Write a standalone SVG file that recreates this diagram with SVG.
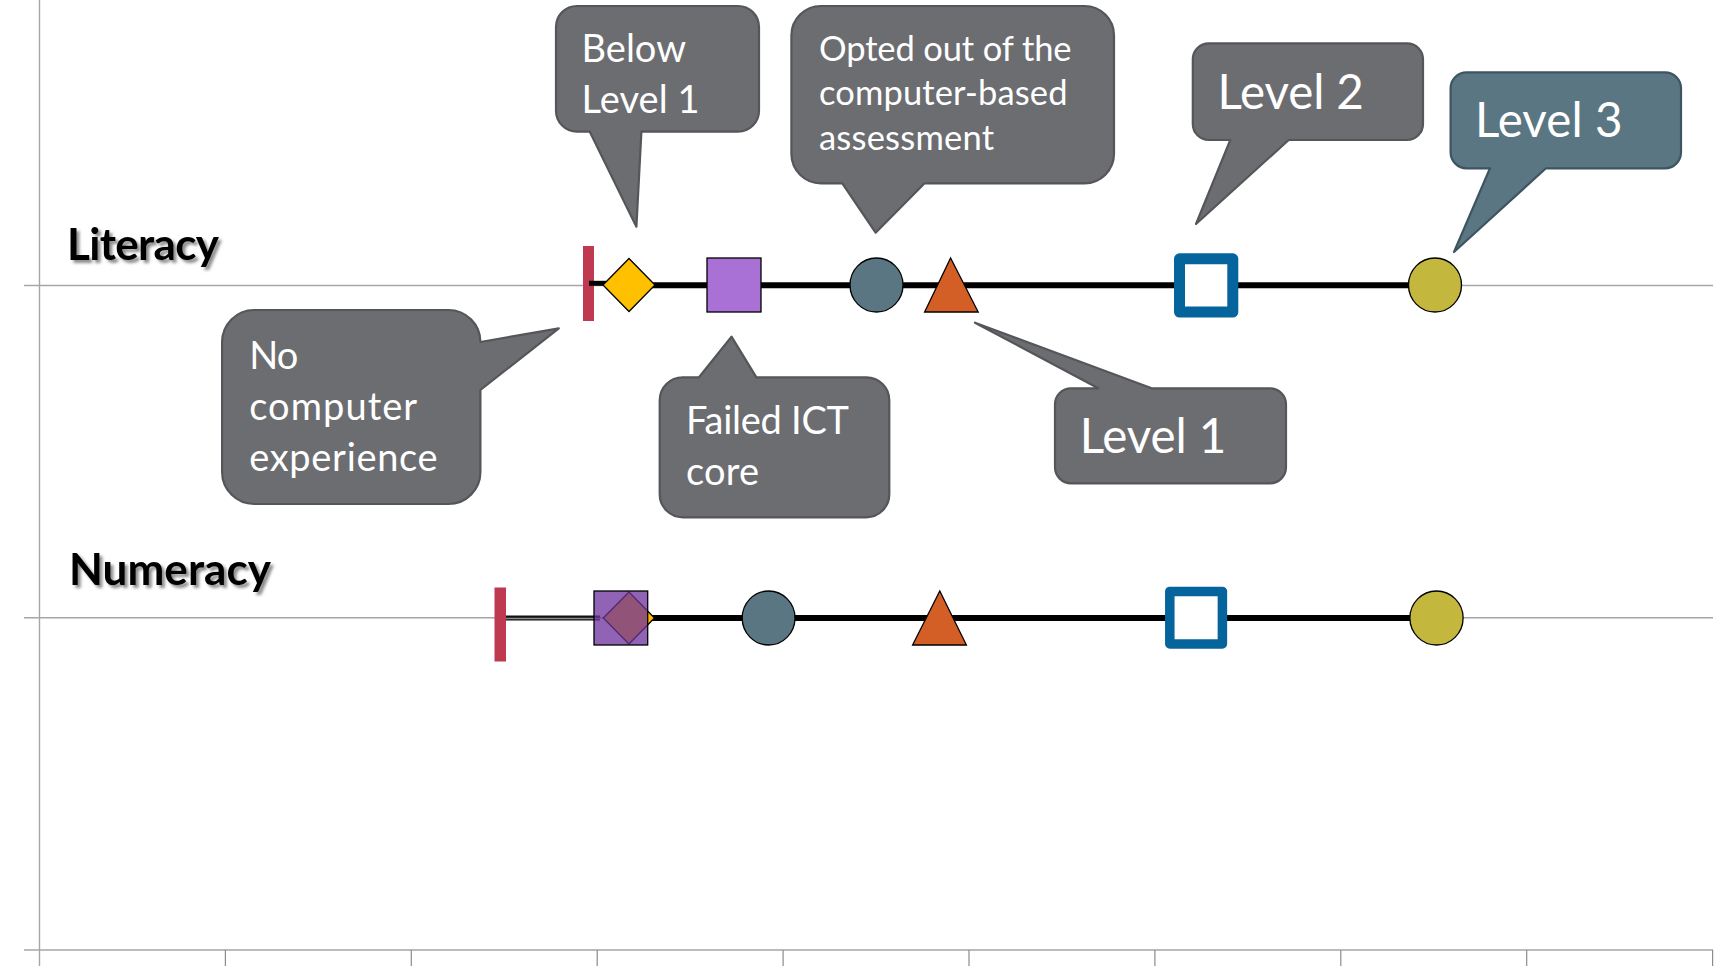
<svg xmlns="http://www.w3.org/2000/svg" width="1719" height="966" viewBox="0 0 1719 966">
  <style>
    .axis { stroke: #a6a6a6; stroke-width: 1.4; fill: none; }
    .tick { stroke: #8c8c8c; stroke-width: 1.2; }
    .track { stroke: #000; stroke-width: 6; fill: none; }
    .edge { stroke: #000; stroke-width: 1.3; }
    .callout { fill: #6c6d71; stroke: #55565a; stroke-width: 2.2; stroke-linejoin: round; }
    .callout-teal { fill: #5a7682; stroke: #3e5561; stroke-width: 2.2; stroke-linejoin: round; }
    .label { font-family: Lato, "Open Sans", "Liberation Sans", sans-serif; fill: #ffffff; }
    .row-title { font-family: Lato, "Liberation Sans", sans-serif; font-weight: bold; fill: #000; font-size: 44px; }
  </style>
  <defs>
    <filter id="soft-shadow" x="-10%" y="-20%" width="130%" height="150%">
      <feDropShadow dx="3" dy="3" stdDeviation="1.6" flood-color="#000" flood-opacity="0.45"/>
    </filter>
  </defs>

  <rect width="1719" height="966" fill="#ffffff"/>

  <!-- chart frame and gridlines -->
  <g id="axes">
    <line class="axis" x1="39.5" y1="0" x2="39.5" y2="966"/>
    <line class="axis" x1="24" y1="285.5" x2="1713" y2="285.5"/>
    <line class="axis" x1="24" y1="617.7" x2="1713" y2="617.7"/>
    <line class="axis" x1="24" y1="950" x2="1713" y2="950" stroke-width="2.4"/>
    <g class="tick">
      <line x1="225.4" y1="950" x2="225.4" y2="966"/>
      <line x1="411.3" y1="950" x2="411.3" y2="966"/>
      <line x1="597.2" y1="950" x2="597.2" y2="966"/>
      <line x1="783.1" y1="950" x2="783.1" y2="966"/>
      <line x1="969" y1="950" x2="969" y2="966"/>
      <line x1="1154.9" y1="950" x2="1154.9" y2="966"/>
      <line x1="1340.8" y1="950" x2="1340.8" y2="966"/>
      <line x1="1526.7" y1="950" x2="1526.7" y2="966"/>
      <line x1="1712.6" y1="950" x2="1712.6" y2="966"/>
    </g>
  </g>

  <!-- row titles -->
  <g id="title-literacy" filter="url(#soft-shadow)">
    <text class="row-title" x="67" y="260" textLength="152" lengthAdjust="spacing">Literacy</text>
  </g>
  <g id="title-numeracy" filter="url(#soft-shadow)">
    <text class="row-title" x="69" y="585" textLength="202" lengthAdjust="spacing">Numeracy</text>
  </g>

  <!-- tracks linking the markers of each row -->
  <g id="connectors">
    <line class="track" x1="629" y1="285.3" x2="1435" y2="285.3"/>
    <line x1="506" y1="618" x2="600" y2="618" stroke="#111" stroke-width="5"/>
    <line x1="506" y1="618.5" x2="600" y2="618.5" stroke="#8a8a8a" stroke-width="1.4"/>
    <line class="track" x1="640" y1="618" x2="1436" y2="618"/>
  </g>

  <!-- literacy markers -->
  <g id="lit-no-computer">
    <rect x="583" y="246" width="11" height="75" fill="#bf3a51"/>
    <line x1="589" y1="283.3" x2="606" y2="283.3" stroke="#000" stroke-width="5"/>
  </g>
  <g id="lit-below-level1">
    <polygon class="edge" points="603,285 629,258.5 655,285 629,311.5" fill="#ffc000"/>
  </g>
  <g id="lit-failed-ict">
    <rect class="edge" x="707" y="258" width="54" height="54" fill="#a970d6"/>
  </g>
  <g id="lit-opted-out">
    <ellipse class="edge" cx="876.5" cy="285" rx="26.5" ry="27" fill="#5a7682"/>
  </g>
  <g id="lit-level1">
    <polygon class="edge" points="950.6,258 978.2,312 924.6,312" fill="#d35f27"/>
  </g>
  <g id="lit-level2">
    <rect x="1179.5" y="258.8" width="53.3" height="53.3" fill="#ffffff" stroke="#06649c" stroke-width="11" stroke-linejoin="round"/>
  </g>
  <g id="lit-level3">
    <ellipse class="edge" cx="1435" cy="285" rx="26.5" ry="27" fill="#c3b73e"/>
  </g>

  <!-- numeracy markers -->
  <g id="num-no-computer">
    <rect x="494.5" y="587.5" width="11.5" height="74" fill="#bf3a51"/>
  </g>
  <g id="num-below-level1">
    <polygon class="edge" points="603.3,618 629,592 654.5,618 629,644" fill="#ffc000"/>
  </g>
  <g id="num-failed-ict">
    <rect x="594" y="591" width="53.7" height="54" fill="#6e329e" fill-opacity="0.76" stroke="#000" stroke-width="1.3"/>
  </g>
  <g id="num-opted-out">
    <ellipse class="edge" cx="768.6" cy="618" rx="26.4" ry="27" fill="#5a7682"/>
  </g>
  <g id="num-level1">
    <polygon class="edge" points="939.8,591 966.4,645 912.6,645" fill="#d35f27"/>
  </g>
  <g id="num-level2">
    <rect x="1169.8" y="591.4" width="52.6" height="52.6" fill="#ffffff" stroke="#06649c" stroke-width="9.5" stroke-linejoin="round"/>
  </g>
  <g id="num-level3">
    <ellipse class="edge" cx="1436.5" cy="618" rx="26.6" ry="27" fill="#c3b73e"/>
  </g>

  <!-- callouts -->
  <g id="callout-below-level1">
    <path class="callout" d="M577,6 H738 A21,21 0 0 1 759,27 V110.7 A21,21 0 0 1 738,131.7 H641.4 L636.4,226.7 L589.8,131.7 H577 A21,21 0 0 1 556,110.7 V27 A21,21 0 0 1 577,6 Z"/>
    <text class="label" font-size="38" x="581.5" y="62.3" textLength="104.5" lengthAdjust="spacing">Below</text>
    <text class="label" font-size="38" x="581.5" y="113.3" textLength="118" lengthAdjust="spacing">Level 1</text>
  </g>
  <g id="callout-opted-out">
    <path class="callout" d="M821,6 H1084.5 A29.5,29.5 0 0 1 1114,35.5 V153.8 A29.5,29.5 0 0 1 1084.5,183.3 H924.6 L875.6,232.7 L842.3,183.3 H821 A29.5,29.5 0 0 1 791.4,153.8 V35.5 A29.5,29.5 0 0 1 821,6 Z"/>
    <text class="label" font-size="34.5" x="819" y="60.5" textLength="252.5" lengthAdjust="spacing">Opted out of the</text>
    <text class="label" font-size="34.5" x="819" y="105" textLength="248.5" lengthAdjust="spacing">computer-based</text>
    <text class="label" font-size="34.5" x="819" y="149.5" textLength="175" lengthAdjust="spacing">assessment</text>
  </g>
  <g id="callout-level2">
    <path class="callout" d="M1208.8,43.3 H1407 A16,16 0 0 1 1423,59.3 V124 A16,16 0 0 1 1407,140 H1288.7 L1196,224 L1230.3,140 H1208.8 A16,16 0 0 1 1192.8,124 V59.3 A16,16 0 0 1 1208.8,43.3 Z"/>
    <text class="label" font-size="47.5" x="1217.4" y="109" textLength="146.5" lengthAdjust="spacing">Level 2</text>
  </g>
  <g id="callout-level3">
    <path class="callout-teal" d="M1466.6,72.3 H1665 A16,16 0 0 1 1681,88.3 V152.3 A16,16 0 0 1 1665,168.3 H1546 L1454,252 L1490,168.3 H1466.6 A16,16 0 0 1 1450.6,152.3 V88.3 A16,16 0 0 1 1466.6,72.3 Z"/>
    <text class="label" font-size="47.5" x="1475" y="136.7" textLength="147.5" lengthAdjust="spacing">Level 3</text>
  </g>
  <g id="callout-no-computer">
    <path class="callout" d="M254,310 H448.4 A32,32 0 0 1 480.4,342 L558.8,328.3 L480.4,390 V472 A32,32 0 0 1 448.4,504 H254 A32,32 0 0 1 222.1,472 V342 A32,32 0 0 1 254,310 Z"/>
    <text class="label" font-size="38" x="249.2" y="369.3" textLength="49" lengthAdjust="spacing">No</text>
    <text class="label" font-size="38" x="249.2" y="420" textLength="168" lengthAdjust="spacing">computer</text>
    <text class="label" font-size="38" x="249.2" y="470.7" textLength="188.5" lengthAdjust="spacing">experience</text>
  </g>
  <g id="callout-failed-ict">
    <path class="callout" d="M682.7,377.3 H699 L731.5,336.7 L756.4,377.3 H866.3 A23,23 0 0 1 889.3,400.3 V494.3 A23,23 0 0 1 866.3,517.3 H682.7 A23,23 0 0 1 659.7,494.3 V400.3 A23,23 0 0 1 682.7,377.3 Z"/>
    <text class="label" font-size="38" x="686" y="434.3" textLength="163" lengthAdjust="spacing">Failed ICT</text>
    <text class="label" font-size="38" x="686" y="485" textLength="73" lengthAdjust="spacing">core</text>
  </g>
  <g id="callout-level1">
    <path class="callout" d="M1071,388.3 H1098.3 L975,322.7 L1151.7,388.3 H1270 A16,16 0 0 1 1286,404.3 V467.3 A16,16 0 0 1 1270,483.3 H1071 A16,16 0 0 1 1055,467.3 V404.3 A16,16 0 0 1 1071,388.3 Z"/>
    <text class="label" font-size="47.5" x="1079.7" y="453.3" textLength="146.5" lengthAdjust="spacing">Level 1</text>
  </g>
</svg>
